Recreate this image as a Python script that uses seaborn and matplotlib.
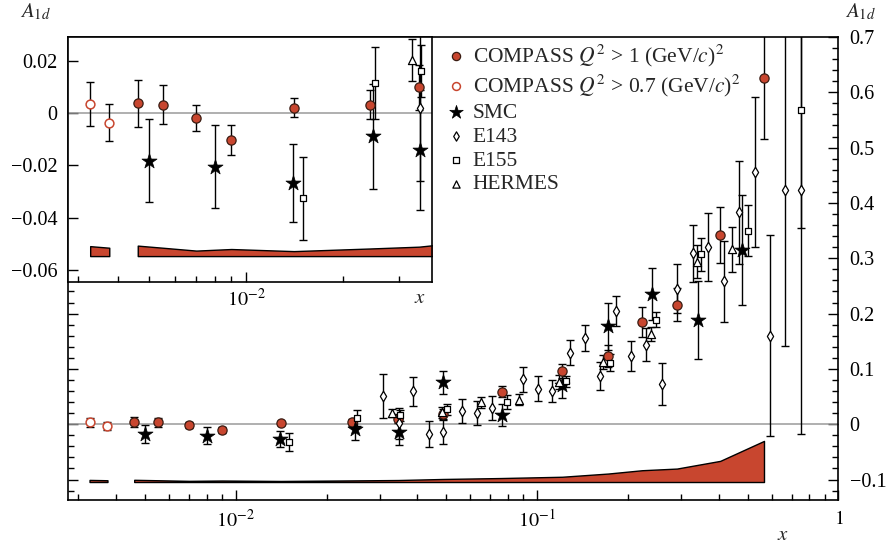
import matplotlib
matplotlib.use("Agg")
import matplotlib.pyplot as plt
import seaborn as sns
import numpy as np
from matplotlib.ticker import FixedLocator, FixedFormatter, LogLocator, NullFormatter, MultipleLocator

# ---- COMPASS, Q^2 > 1 (GeV/c)^2 ----
compass_x = [0.0046, 0.0055, 0.0070, 0.0090, 0.0141, 0.0243, 0.0346, 0.0488,
             0.0762, 0.121, 0.172, 0.223, 0.291, 0.405, 0.566]
compass_y = [0.0037, 0.0032, -0.0019, -0.0103, 0.0020, 0.0032, 0.0098, 0.0180,
             0.0584, 0.0964, 0.1235, 0.184, 0.216, 0.342, 0.625]
compass_err = [0.0090, 0.0074, 0.0051, 0.0058, 0.0036, 0.0057, 0.0085, 0.0090,
               0.010, 0.012, 0.020, 0.027, 0.030, 0.050, 0.110]
compass_sys = [0.0040, 0.0032, 0.0021, 0.0027, 0.0019, 0.0029, 0.0036, 0.0055,
               0.0072, 0.0095, 0.0153, 0.0213, 0.0243, 0.0382, 0.0743]

# ---- COMPASS, Q^2 > 0.7 (GeV/c)^2 ----
compass_low_x = [0.00327, 0.00375]
compass_low_y = [0.0034, -0.0037]
compass_low_err = [0.0085, 0.0072]
compass_low_sys = [0.0038, 0.0032]

# ---- SMC ----
smc_x = [0.0050, 0.0080, 0.0140, 0.0249, 0.0348, 0.0488, 0.0762, 0.121,
         0.172, 0.241, 0.342, 0.477]
smc_y = [-0.0182, -0.0205, -0.0268, -0.0090, -0.0141, 0.0754, 0.0163, 0.0705,
         0.177, 0.235, 0.188, 0.315]
smc_err = [0.0159, 0.0157, 0.0150, 0.0200, 0.0230, 0.020, 0.020, 0.024,
           0.043, 0.047, 0.071, 0.100]

# ---- E143 ----
e143_x = [0.0308, 0.0348, 0.0388, 0.0438, 0.0488, 0.0561, 0.0630, 0.0710, 0.0898,
          0.1008, 0.1124, 0.1284, 0.1446, 0.1614, 0.1824, 0.2047, 0.2294, 0.260,
          0.2905, 0.329, 0.369, 0.416, 0.467, 0.527, 0.591, 0.667, 0.753]
e143_y = [0.0512, 0.0020, 0.0597, -0.018, -0.014, 0.024, 0.0205, 0.0295, 0.0814,
          0.0645, 0.060, 0.129, 0.155, 0.0874, 0.205, 0.1235, 0.144, 0.0723,
          0.245, 0.3087, 0.3206, 0.2586, 0.383, 0.456, 0.160, 0.423, 0.423]
e143_err = [0.040, 0.028, 0.026, 0.024, 0.022, 0.022, 0.022, 0.022, 0.0226,
            0.022, 0.020, 0.0226, 0.0235, 0.0256, 0.027, 0.027, 0.030, 0.038,
            0.044, 0.052, 0.061, 0.073, 0.093, 0.135, 0.182, 0.282, 0.440]
# lowest E143 bin shown in the small-x panel
e143_inset_xmin = 0.034

# ---- E155 ----
e155_x = [0.0150, 0.0252, 0.0350, 0.0501, 0.0795, 0.1245, 0.1742, 0.2489,
          0.351, 0.501, 0.753]
e155_y = [-0.0326, 0.0113, 0.0161, 0.0266, 0.040, 0.078, 0.1115, 0.189,
          0.3074, 0.3496, 0.568]
e155_err = [0.0159, 0.0137, 0.010, 0.010, 0.012, 0.010, 0.015, 0.014,
            0.030, 0.046, 0.214]

# ---- HERMES ----
hermes_x = [0.0330, 0.0482, 0.0649, 0.0870, 0.1183, 0.1656, 0.2394, 0.338, 0.4446]
hermes_y = [0.0202, 0.022, 0.040, 0.0446, 0.0765, 0.1127, 0.163, 0.2935, 0.316]
hermes_err = [0.0079, 0.010, 0.010, 0.010, 0.012, 0.012, 0.012, 0.030, 0.041]

RED = "#c8462f"
DARK = "#3a1c12"

sns.set_theme(style="ticks")
plt.rcParams["font.family"] = ["Liberation Serif", "DejaVu Serif"]
plt.rcParams["mathtext.fontset"] = "stix"
plt.rcParams["axes.linewidth"] = 1.2
plt.rcParams["axes.edgecolor"] = "black"

fig = plt.figure(figsize=(8.87, 5.44), dpi=100)
ax = fig.add_axes([0.0770, 0.0809, 0.8683, 0.8511])
ins = fig.add_axes([0.0770, 0.4816, 0.4100, 0.4504], zorder=5)

series = [
    dict(x=compass_x, y=compass_y, e=compass_err, marker="o", s=44, face=RED, edge=DARK, lw=0.9,
         label=r"COMPASS $Q^2$ > 1 (GeV/$c$)$^2$", xmin=0),
    dict(x=compass_low_x, y=compass_low_y, e=compass_low_err, marker="o", s=40, face="white",
         edge=RED, lw=1.1, label=r"COMPASS $Q^2$ > 0.7 (GeV/$c$)$^2$", xmin=0),
    dict(x=smc_x, y=smc_y, e=smc_err, marker="*", s=130, face="black", edge="black", lw=0.5,
         label="SMC", xmin=0),
    dict(x=e143_x, y=e143_y, e=e143_err, marker="d", s=28, face="white", edge="black", lw=0.9,
         label="E143", xmin=e143_inset_xmin),
    dict(x=e155_x, y=e155_y, e=e155_err, marker="s", s=24, face="white", edge="black", lw=0.9,
         label="E155", xmin=0),
    dict(x=hermes_x, y=hermes_y, e=hermes_err, marker="^", s=34, face="white", edge="black",
         lw=0.9, label="HERMES", xmin=0),
]

# systematic-error bands at the bottom of each panel
for a, base in ((ax, -0.1045), (ins, -0.0547)):
    for xs, sy in ((compass_low_x, compass_low_sys), (compass_x, compass_sys)):
        xs = np.asarray(xs)
        a.fill_between(xs, base, base + np.asarray(sy), facecolor=RED, edgecolor="black",
                       linewidth=1.0, zorder=2)
    a.axhline(0, color="#9a9a9a", lw=1.1, zorder=1)


def draw_series(a, x, y, e, sd, i):
    a.errorbar(x, y, yerr=e, fmt="none", ecolor="black",
               elinewidth=1.0, capsize=3, capthick=1.0, zorder=3 + i * 0.1)
    sns.scatterplot(x=x, y=y, ax=a, marker=sd["marker"], s=sd["s"],
                    color=sd["face"], edgecolor=sd["edge"], linewidth=sd["lw"],
                    zorder=4 + i * 0.1, legend=False)


order = [3, 4, 5, 2, 0, 1]  # open markers first, COMPASS on top
for i in order:
    sd = series[i]
    x = np.asarray(sd["x"])
    y = np.asarray(sd["y"])
    e = np.asarray(sd["e"])
    draw_series(ax, x, y, e, sd, i)
    keep = x >= sd["xmin"]
    draw_series(ins, x[keep], y[keep], e[keep], sd, i)

handles = []
for sd in series:
    h = ax.scatter([], [], marker=sd["marker"], s=sd["s"] * 0.8, facecolor=sd["face"],
                   edgecolor=sd["edge"], linewidth=sd["lw"])
    handles.append((h, sd["label"]))

# ---- main axes ----
ax.set_xscale("log")
ax.set_xlim(0.00278, 1.0)
ax.set_ylim(-0.137, 0.7)
ax.xaxis.set_major_locator(FixedLocator([0.01, 0.1, 1.0]))
ax.xaxis.set_major_formatter(FixedFormatter([r"$10^{-2}$", r"$10^{-1}$", r"$1$"]))
ax.xaxis.set_minor_locator(LogLocator(base=10, subs=np.arange(2, 10)))
ax.xaxis.set_minor_formatter(NullFormatter())
ax.yaxis.set_major_locator(FixedLocator([-0.1, 0, 0.1, 0.2, 0.3, 0.4, 0.5, 0.6, 0.7]))
ax.yaxis.set_major_formatter(FixedFormatter(["\u22120.1", "0", "0.1", "0.2", "0.3", "0.4",
                                             "0.5", "0.6", "0.7"]))
ax.yaxis.set_minor_locator(MultipleLocator(0.02))
ax.tick_params(axis="both", which="both", direction="in", colors="black", labelsize=14.5,
               width=1.0)
ax.tick_params(axis="both", which="major", length=7)
ax.tick_params(axis="both", which="minor", length=4)
ax.tick_params(axis="x", which="both", top=False, bottom=True, pad=7)
ax.tick_params(axis="y", which="both", left=True, right=True, labelleft=False,
               labelright=True, pad=8)
for sp in ax.spines.values():
    sp.set_color("black")
    sp.set_linewidth(1.2)
ax.set_xlabel("")
ax.set_ylabel("")

leg = ax.legend([h for h, _ in handles], [l for _, l in handles], loc="upper left",
                bbox_to_anchor=(0.494, 0.938), bbox_transform=fig.transFigure,
                frameon=False, fontsize=15.5, handlelength=0.85, handletextpad=0.35,
                labelspacing=0.18, borderaxespad=0.0, scatterpoints=1)

# ---- inset axes ----
ins.set_xscale("log")
ins.set_xlim(0.002795, 0.03797)
ins.set_ylim(-0.0646, 0.029)
ins.set_facecolor("white")
ins.xaxis.set_major_locator(FixedLocator([0.01]))
ins.xaxis.set_major_formatter(FixedFormatter([r"$10^{-2}$"]))
ins.xaxis.set_minor_locator(LogLocator(base=10, subs=np.arange(2, 10)))
ins.xaxis.set_minor_formatter(NullFormatter())
ins.yaxis.set_major_locator(FixedLocator([-0.06, -0.04, -0.02, 0, 0.02]))
ins.yaxis.set_major_formatter(FixedFormatter(["\u22120.06", "\u22120.04", "\u22120.02",
                                              "0", "0.02"]))
ins.tick_params(axis="both", which="both", direction="in", colors="black", labelsize=14.5,
                width=1.0)
ins.tick_params(axis="both", which="major", length=7)
ins.tick_params(axis="both", which="minor", length=4)
ins.tick_params(axis="x", which="both", top=False, bottom=True, pad=5)
ins.tick_params(axis="y", which="both", left=True, right=False, pad=8)
for sp in ins.spines.values():
    sp.set_color("black")
    sp.set_linewidth(1.2)
ins.set_xlabel("")
ins.set_ylabel("")

# axis titles
fig.text(0.9696, 0.978, r"$A_{1d}$", fontsize=15, ha="center", va="center")
fig.text(0.0395, 0.978, r"$A_{1d}$", fontsize=15, ha="center", va="center")
fig.text(0.883, 0.0165, r"$x$", fontsize=15, ha="center", va="center")
fig.text(0.4735, 0.452, r"$x$", fontsize=15, ha="center", va="center")

fig.savefig("out.png", dpi=100)
